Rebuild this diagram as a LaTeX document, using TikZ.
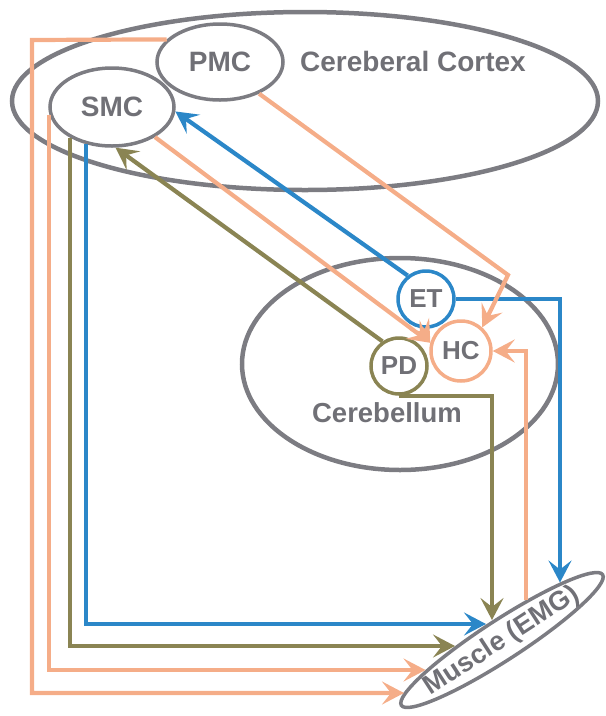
\documentclass[tikz,border=0pt]{standalone}
\usepackage{fontspec}
\setmainfont{Liberation Sans}
\usetikzlibrary{arrows.meta,shapes.geometric}
\definecolor{cblue}{RGB}{43,135,200}
\definecolor{corange}{RGB}{245,173,136}
\definecolor{colive}{RGB}{138,132,83}
\definecolor{cgray}{RGB}{124,124,130}
\definecolor{ctext}{RGB}{112,112,118}
\begin{document}
\begin{tikzpicture}[x=1pt,y=-1pt,
  region/.style={ellipse, draw=cgray, line width=4.5pt, inner sep=0pt},
  area/.style={ellipse, draw=cgray, line width=3.5pt, inner sep=0pt,
    font=\bfseries\fontsize{28}{30}\selectfont, text=ctext},
  cnode/.style={circle, line width=3.5pt, inner sep=0pt,
    font=\bfseries\fontsize{26}{28}\selectfont, text=ctext},
  lbl/.style={font=\bfseries\fontsize{28}{30}\selectfont, text=ctext, inner sep=0pt},
  conn/.style={line width=4.2pt, -{Stealth[length=22pt,width=23pt,inset=9pt]}},
]
\useasboundingbox (0,0) rectangle (606,716);

% regions
\node[region, minimum width=586pt, minimum height=178pt] (cortex) at (305,101) {};
\node[region, minimum width=316pt, minimum height=212pt] (cerebellum) at (400,364) {};
\node[lbl] (cortexlbl) at (413,61) {Cereberal Cortex};
\node[lbl, font=\bfseries\fontsize{27.5}{30}\selectfont] (cerebellumlbl) at (387,413) {Cerebellum};

% areas
\node[area, minimum width=126pt, minimum height=76pt] (PMC) at (220,62) {PMC};
\node[area, minimum width=124pt, minimum height=78pt] (SMC) at (112,107) {SMC};
\node[cnode, draw=cblue, minimum size=56pt] (ET) at (426,299) {ET};
\node[cnode, draw=corange, minimum size=60pt] (HC) at (461,351) {HC};
\node[cnode, draw=colive, minimum size=56pt] (PD) at (399,366) {PD};
\node[ellipse, draw=cgray, line width=3.5pt, inner sep=0pt,
      minimum width=240pt, minimum height=40pt, rotate=33] (muscle) at (502,640) {};
\node[lbl, font=\bfseries\fontsize{27}{30}\selectfont, rotate=33] (musclelbl) at (502,641) {Muscle (EMG)};

% end points on the muscle outline and bends
\coordinate (tipBh) at (486,624);
\coordinate (tipOh) at (455,646);
\coordinate (tipO1) at (425.5,670);
\coordinate (tipO2) at (404,693);
\coordinate (tipOv) at (492,620);
\coordinate (tipBv) at (560,582.5);
\coordinate (startOr) at (526,600);
\coordinate (cornerO) at (32,40);
\coordinate (bend) at (508,275);

% connectors to the muscle
\draw[conn, cblue] (SMC.-125) |- (tipBh);
\draw[conn, colive] (SMC.-144) |- (tipOh);
\draw[conn, corange] (SMC.-173) |- (tipO1);
\draw[conn, corange] (PMC.157) -- (cornerO) |- (tipO2);
\draw[conn, cblue] (ET.east) -| (tipBv);
\draw[conn, colive] (PD.south) -| (tipOv);

% connectors back to the cortex
\draw[conn, cblue] (ET.128) -- (SMC.-4);
\draw[conn, colive] (PD.124) -- (SMC.-85);

% connectors into HC
\draw[conn, corange] (SMC.-35) -- (HC.165);
\draw[conn, corange] (ET.-98) -- (HC.165);
\draw[conn, corange] (PMC.-39) -- (bend) -- (HC.48);
\draw[conn, corange] (startOr) |- (HC.east);
\end{tikzpicture}
\end{document}
